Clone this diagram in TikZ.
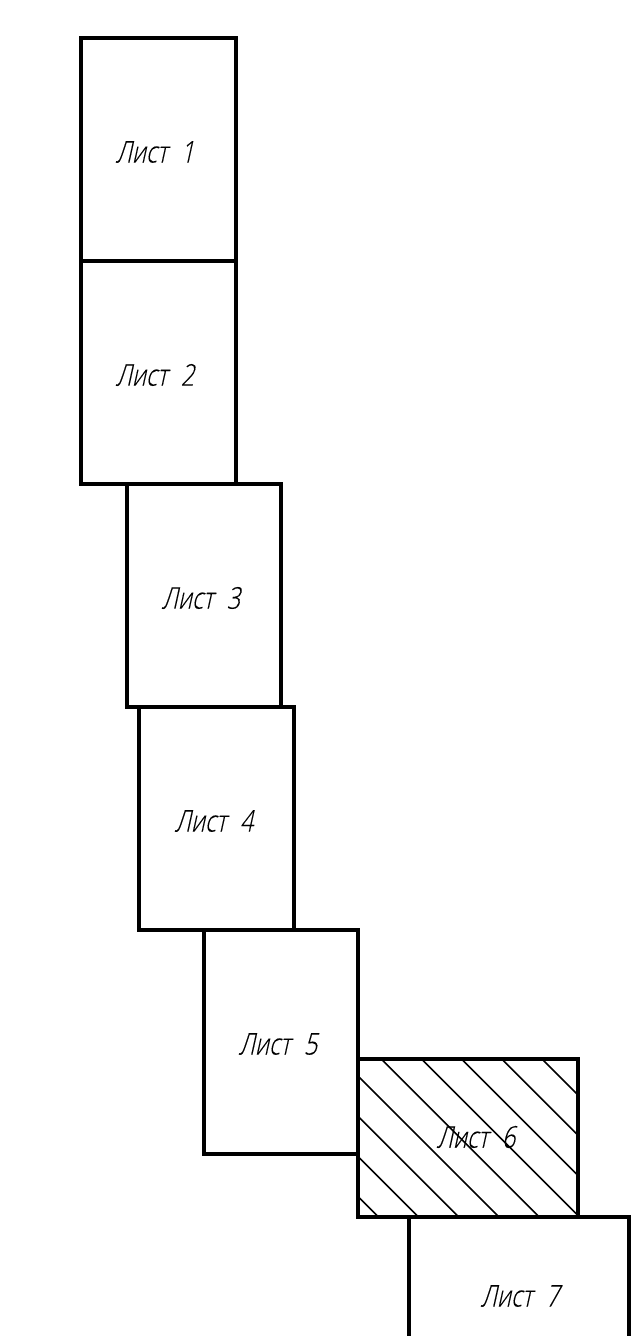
\documentclass[tikz,border=0pt]{standalone}
\usepackage{fontspec}
\newfontfamily\lblfont[FakeSlant=0.22,FakeStretch=0.78,FakeBold=0.25,WordSpace=1.1]{Open Sans Light}
\tikzset{
  x=1pt,y=-1pt,
  sheet/.style={draw=black,line width=3.7pt,line join=miter},
  hatchline/.style={draw=black,line width=1.6pt},
  sheetlabel/.style={font=\lblfont\fontsize{30}{30}\selectfont,text=black,inner sep=0pt,anchor=center}
}
\begin{document}
\begin{tikzpicture}
\useasboundingbox (0,0) rectangle (631,1336);
\fill[white] (0,0) rectangle (631,1336);
\begin{scope}
\clip (358,1059) rectangle (578,1217);
\foreach \d in {517,557.2,597.4,637.6,677.8,718,758.2,798.4,838.6}
  \draw[hatchline] (300,300+\d) -- (640,640+\d);
\end{scope}
\draw[sheet] (81,38) rectangle (236,261);
\draw[sheet] (81,261) rectangle (236,484);
\draw[sheet] (127,484) rectangle (281,707);
\draw[sheet] (139,707) rectangle (294,930);
\draw[sheet] (204,930) rectangle (358,1154);
\draw[sheet] (358,1059) rectangle (578,1217);
\draw[sheet] (409,1340) -- (409,1217) -- (629,1217) -- (629,1340);
\node[sheetlabel] (l1) at (155,152) {Лист\ \ 1};
\node[sheetlabel] (l2) at (155,375) {Лист\ \ 2};
\node[sheetlabel] (l3) at (201,598) {Лист\ \ 3};
\node[sheetlabel] (l4) at (214,821) {Лист\ \ 4};
\node[sheetlabel] (l5) at (278,1044) {Лист\ \ 5};
\node[sheetlabel] (l6) at (476,1137) {Лист\ \ 6};
\node[sheetlabel] (l7) at (520,1296) {Лист\ \ 7};
\end{tikzpicture}
\end{document}
